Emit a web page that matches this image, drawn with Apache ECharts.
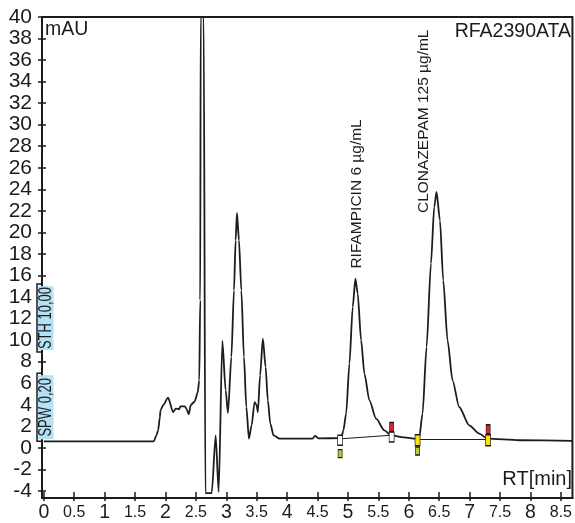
<!DOCTYPE html>
<html>
<head>
<meta charset="utf-8">
<script src="https://cdn.jsdelivr.net/npm/echarts@6.0.0/dist/echarts.min.js"></script>
<style>
  html, body { margin: 0; padding: 0; background: #fff; }
  #chart { width: 575px; height: 523px; }
</style>
</head>
<body>
<div id="chart"></div>
<script>
// retention time (min) and detector signal (mAU)
const rt = [0, 1.808, 1.852, 1.879, 1.907, 1.918, 1.961, 2.043, 2.125, 2.169, 2.223, 2.246, 2.317, 2.345, 2.382,
  2.415, 2.453, 2.481, 2.530, 2.555, 2.571, 2.579, 2.628, 2.656, 2.760, 2.825, 2.874, 2.935, 2.989, 3.027,
  3.083, 3.126, 3.153, 3.175, 3.208, 3.247, 3.290, 3.329, 3.372, 3.416, 3.465, 3.498, 3.519, 3.555, 3.601,
  3.646, 3.683, 3.723, 3.777, 3.875, 4.203, 4.417, 4.458, 4.515, 4.888, 4.925, 4.970, 5.024, 5.078, 5.122,
  5.160, 5.216, 5.270, 5.352, 5.462, 5.598, 5.708, 5.926, 6.118, 6.172, 6.226, 6.292, 6.364, 6.418, 6.456,
  6.512, 6.566, 6.637, 6.719, 6.828, 6.993, 7.157, 7.293, 7.814, 8.69]
const signal = [0.60, 0.60, 1.16, 1.62, 2.83, 3.48, 3.95, 4.66, 3.32, 3.64, 3.57, 3.85, 3.85, 3.64, 3.11,
  3.95, 4.16, 4.32, 5.15, 6.27, 13.7, 40, 40, -4.2, -4.2, 1.16, -4.10, 9.92, 5.34, 3.23,
  8.43, 14.62, 19.27, 21.80, 19.27, 14.62, 8.43, 3.79, 0.85, 2.09, 4.25, 3.95, 3.32, 6.73, 10.14,
  7.50, 4.41, 2.25, 1.16, 0.85, 0.85, 0.85, 1.11, 0.88, 0.90, 1.62, 3.18, 7.82, 13.07, 15.71,
  14.32, 9.98, 6.89, 4.41, 2.71, 1.62, 1.16, 0.97, 0.84, 0.97, 3.18, 9.36, 17.10, 22.36, 23.75,
  21.12, 15.55, 9.98, 6.27, 3.79, 2.09, 1.32, 0.85, 0.70, 0.65]

// identified peaks
const peakNames = ['RIFAMPICIN 6 µg/mL', 'CLONAZEPAM 125 µg/mL']
const peakRT = [5.122, 6.456]
const peakHeight = [15.71, 23.75]

// integration baselines
const baseStartRT = [4.888, 6.144]
const baseStartLevel = [0.84, 0.76]
const baseEndRT = [5.708, 7.304]
const baseEndLevel = [1.16, 0.76]

// peak event flags
const whiteRT = [4.871, 5.718]
const whiteLevel = [0.70, 1.00]
const yellowRT = [6.144, 7.304]
const yellowLevel = [0.70, 0.70]
const redRT = [5.718, 7.304]
const redLevel = [1.93, 1.72]
const greenRT = [4.871, 6.144]
const greenLevel = [-0.54, -0.30]

// axis ticks
const xTicks = [0, 0.5, 1, 1.5, 2, 2.5, 3, 3.5, 4, 4.5, 5, 5.5, 6, 6.5, 7, 7.5, 8, 8.5]
const yTicks = [-4, -2, 0, 2, 4, 6, 8, 10, 12, 14, 16, 18, 20, 22, 24, 26, 28, 30, 32, 34, 36, 38, 40]

// integration settings shown on the y axis
const settingNames = ['STH 10,00', 'SPW 0,20']
const settingTop = [15.2, 6.92]
const settingBottom = [8.9, 0.6]

const INK = '#1f1b1c'
const FONT = "'Liberation Sans', Arial, sans-serif"
const zip = (a, b) => a.map((v, i) => [v, b[i]])

const chart = echarts.init(document.getElementById('chart'))

const xBase = { type: 'value', min: -0.03, max: 8.69, position: 'bottom', splitLine: { show: false } }
const yBase = { type: 'value', min: -4.66, max: 40, position: 'left', splitLine: { show: false } }

const flag = (name, xs, ys, size, fill) => ({
  type: 'scatter', name, data: zip(xs, ys), symbol: 'rect', symbolSize: size, z: 5,
  itemStyle: { color: fill, borderColor: INK, borderWidth: 1, opacity: 1 }, silent: true
})

// rotated label offsets are given in the text's own frame: [along text, across text]
const labelShift = [[10, 1.5], [-21, -13]]

const option = {
  animation: false,
  backgroundColor: '#fff',
  textStyle: { fontFamily: FONT },
  grid: { left: 42, right: 1.5, top: 17, bottom: 25, show: true, borderColor: INK, borderWidth: 2 },
  xAxis: [
    Object.assign({}, xBase, {
      axisLine: { onZero: false, lineStyle: { color: INK, width: 2 } },
      axisTick: { inside: true, length: 6, customValues: xTicks, lineStyle: { color: INK, width: 1.5 } },
      axisLabel: {
        customValues: xTicks, interval: 0, margin: 4, color: INK,
        formatter: v => Number.isInteger(v) ? '{i|' + v + '}' : '{d|' + v + '}',
        rich: { i: { fontSize: 19.5, lineHeight: 22, color: INK }, d: { fontSize: 16, lineHeight: 22, color: INK } }
      }
    }),
    Object.assign({}, xBase, {
      axisLine: { show: false, onZero: false },
      axisTick: { inside: false, length: 3, customValues: xTicks, lineStyle: { color: INK, width: 1.5 } },
      axisLabel: { show: false }
    })
  ],
  yAxis: [
    Object.assign({}, yBase, {
      axisLine: { onZero: false, lineStyle: { color: INK, width: 2 } },
      axisTick: { inside: true, length: 4, customValues: yTicks, lineStyle: { color: INK, width: 1.5 } },
      axisLabel: { customValues: yTicks, interval: 0, margin: 10, fontSize: 21, color: INK }
    }),
    Object.assign({}, yBase, {
      axisLine: { show: false, onZero: false },
      axisTick: { inside: false, length: 4, customValues: yTicks, lineStyle: { color: INK, width: 1.5 } },
      axisLabel: { show: false }
    })
  ],
  series: [
    {
      type: 'line', name: 'signal', data: zip(rt, signal), showSymbol: false, z: 3,
      smooth: 0.25, smoothMonotone: 'x',
      lineStyle: { color: INK, width: 1.8 }, silent: true,
      markLine: {
        silent: true, symbol: 'none', label: { show: false },
        lineStyle: { color: INK, width: 1.1, type: 'solid' },
        data: baseStartRT.map((s, i) => [{ coord: [s, baseStartLevel[i]] }, { coord: [baseEndRT[i], baseEndLevel[i]] }])
      },
      markPoint: {
        silent: true, symbol: 'circle', symbolSize: 1, itemStyle: { color: 'rgba(0,0,0,0)' },
        data: peakNames.map((n, i) => ({
          name: n, coord: [peakRT[i], peakHeight[i]],
          label: { offset: labelShift[i] }
        })),
        label: {
          show: true, formatter: '{b}', position: 'inside', rotate: 90, align: 'left', verticalAlign: 'middle',
          fontSize: 15.5, color: INK, fontFamily: FONT
        }
      }
    },
    flag('white', whiteRT, whiteLevel, [5, 10], '#ffffff'),
    flag('yellow', yellowRT, yellowLevel, [5, 11], '#ffe300'),
    flag('red', redRT, redLevel, [4, 9], '#d7262b'),
    flag('green', greenRT, greenLevel, [4, 8], '#b4cf2e')
  ]
}
chart.setOption(option)

// corner captions and setting boxes
const py = v => chart.convertToPixel({ yAxisIndex: 0 }, v)
const graphics = [
  { type: 'text', x: 45, y: 30, z: 50, style: { text: 'mAU', fontSize: 19.5, fontFamily: FONT, fill: INK, verticalAlign: 'middle' } },
  { type: 'text', x: 571, y: 31.5, z: 50, style: { text: 'RFA2390ATA', fontSize: 19.5, fontFamily: FONT, fill: INK, align: 'right', verticalAlign: 'middle' } },
  { type: 'text', x: 572, y: 479, z: 50, style: { text: 'RT[min]', fontSize: 20, fontFamily: FONT, fill: INK, align: 'right', verticalAlign: 'middle' } }
]
settingNames.forEach((name, i) => {
  const y1 = py(settingTop[i])
  const y2 = py(settingBottom[i])
  graphics.push(
    { type: 'rect', z: 40, shape: { x: 38, y: y1 + 2, width: 15.5, height: y2 - y1 - 4 }, style: { fill: '#b3e1f6' } },
    { type: 'polyline', z: 41, shape: { points: [[42, y1], [37, y1], [37, y2], [42, y2]] }, style: { stroke: INK, lineWidth: 1.5, fill: null } },
    { type: 'text', z: 42, x: 46, y: (y1 + y2) / 2, rotation: Math.PI / 2, scaleY: 1.35,
      style: { text: name, fontSize: 13, fontFamily: FONT, fill: INK, align: 'center', verticalAlign: 'middle' } }
  )
})
chart.setOption({ graphic: graphics })
</script>
</body>
</html>
